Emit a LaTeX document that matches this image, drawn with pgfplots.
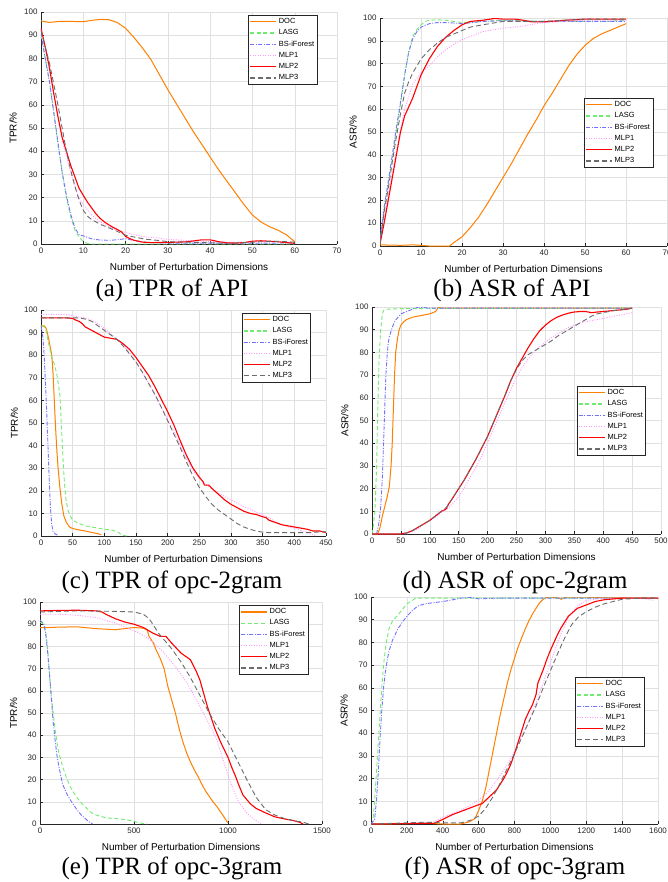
\documentclass[border=0pt]{standalone}
\usepackage{fontspec}
\setmainfont{Liberation Sans}
\newfontfamily\timesfont{Liberation Serif}
\usepackage{pgfplots}
\pgfplotsset{compat=1.18}

\definecolor{cDOC}{rgb}{1,0.5,0}
\definecolor{cLASG}{rgb}{0.45,0.92,0.45}
\definecolor{cBS}{rgb}{0.45,0.45,1}
\definecolor{cMLP1}{rgb}{1,0.6,1}
\definecolor{cMLP2}{rgb}{1,0,0}
\definecolor{cMLP3}{rgb}{0.42,0.42,0.42}
\definecolor{axgray}{rgb}{0.15,0.15,0.15}

\pgfplotsset{
  panel/.style={
    scale only axis,
    axis x line*=bottom, axis y line*=left,
    axis line style={axgray, line width=0.5bp, -},
    every tick/.style={axgray, line width=0.5bp},
    tick align=inside, major tick length=3bp,
    grid=major, grid style={black!12, line width=0.4bp},
    ymin=0, ymax=100, ytick={0,10,...,100},
    tick label style={font=\fontsize{8}{9}\selectfont, text=axgray},
    /pgf/number format/assume math mode=true,
    /pgf/number format/1000 sep={},
    label style={font=\fontsize{9.5}{11}\selectfont, text=axgray},
    every axis x label/.style={at={(axis description cs:0.5,0)}, yshift=-23bp, anchor=center},
    every axis y label/.style={at={(axis description cs:-0.094,0.5)}, rotate=90, anchor=center},
    xlabel={Number of Perturbation Dimensions},
    legend cell align=left,
    legend style={font=\fontsize{7.5}{9}\selectfont, draw=axgray, fill=white,
      line width=0.9bp, inner sep=1bp, row sep=0.5bp, anchor=north west},
    legend image code/.code={\draw[##1, line width=1.2bp] (0bp,0bp) -- (26bp,0bp);},
  },
  sDOC/.style={draw=cDOC, line width=1bp},
  sLASG/.style={draw=cLASG, line width=0.9bp, dash pattern=on 4bp off 2.5bp},
  sBS/.style={draw=cBS, line width=0.9bp, dash pattern=on 4bp off 1.5bp on 1bp off 1.5bp},
  sMLP1/.style={draw=cMLP1, line width=0.9bp, dash pattern=on 1bp off 1.5bp},
  sMLP2/.style={draw=cMLP2, line width=1.1bp},
  sMLP3/.style={draw=cMLP3, line width=0.9bp, dash pattern=on 5bp off 3bp},
}

\begin{document}
\begin{tikzpicture}
\useasboundingbox (0,0) rectangle (668bp,-882bp);

% (a) TPR of API
\begin{axis}[panel, at={(41bp,-12bp)}, anchor=north west, width=296bp, height=232bp,
  xmin=0, xmax=70, xtick={0,10,...,70}, ylabel={TPR/\%},
  legend style={at={(0.70,0.987)}}]
\addplot[sDOC] coordinates {(0,96.2)(1,95.8)(2,95.5)(4,95.9)(6,96.0)(8,95.9)(10,95.8)(12,96.4)(14,96.8)(16,96.7)(18,95.5)(20,93)(22,89)(24,84.5)(26,79.5)(28,73)(30,66.5)(32,60.5)(34,54.5)(36,48.5)(38,43)(40,37.5)(42,32)(44,27)(46,22)(48,17)(50,12.5)(52,9.5)(54,7.5)(56,6)(58,4)(60,1)};
\addplot[sLASG] coordinates {(0,90)(1,80)(2,70)(3,57)(4,43)(5,31)(6,20)(7,12)(8,6)(9,3)(10,1)(11,0.2)(12,0)(60,0)};
\addplot[sBS] coordinates {(0,91)(1,80)(2,70)(3,57)(4,44)(5,31)(6,21)(7,13)(8,7)(9,4)(10,3.5)(12,2.2)(14,1.7)(16,1.6)(18,1.8)(20,2.3)(22,1.5)(25,0.7)(30,0.4)(40,0.4)(50,0.3)(60,0.5)};
\addplot[sMLP1] coordinates {(0,92)(2,75)(4,55)(5,45)(6,38)(7,31)(8,25)(9,20)(10,17)(12,12.5)(14,9.5)(16,7.5)(18,6)(20,5)(22,4)(25,3)(28,2.5)(30,2)(35,1.5)(40,1)(45,0.8)(50,0.8)(55,1)(60,0.6)};
\addplot[sMLP2] coordinates {(0,93)(1,85)(2,76)(3,65)(4,55)(5,46)(6,40)(7,34)(8,29)(9,24)(10,21)(11,18)(12,15.5)(13,13)(14,11)(15,9.5)(16,8.3)(17,7.2)(18,6.3)(19,5.3)(20,3.3)(21,2.3)(22,1.6)(24,0.8)(26,0.6)(30,0.7)(34,0.9)(36,1.3)(38,1.8)(40,1.8)(42,1)(44,0.5)(46,0.4)(48,0.6)(50,1.2)(52,1.4)(54,1.2)(56,1)(58,0.6)(60,0.3)};
\addplot[sMLP3] coordinates {(0,92)(1,85)(2,78)(3,69)(4,60)(5,50)(6,40)(7,32)(8,25)(9,19)(10,14.5)(11,12)(12,10.5)(14,8.5)(16,7)(18,5.5)(20,3.8)(22,3)(25,2)(28,1.5)(30,1)(35,0.8)(40,0.5)(45,0.3)(50,0.8)(55,1.2)(58,1)(60,0.8)};
\legend{DOC,LASG,BS-iForest,MLP1,MLP2,MLP3}
\end{axis}

% (b) ASR of API
\begin{axis}[panel, at={(380bp,-18bp)}, anchor=north west, width=287bp, height=228bp,
  xmin=0, xmax=70, xtick={0,10,...,70}, ylabel={ASR/\%},
  legend style={at={(0.711,0.649)}}]
\addplot[sDOC] coordinates {(0,0.5)(5,0.3)(8,0.5)(10,0.3)(12,0)(17,0)(18,1.5)(20,4)(22,8)(24,12.5)(26,18)(28,24)(30,30)(32,36)(34,42.5)(36,49)(38,55)(40,61.5)(42,67)(44,73)(46,79)(48,84)(50,88)(52,91)(54,93)(56,94.5)(58,96)(60,97.5)};
\addplot[sLASG] coordinates {(0,2)(1,15)(2,27)(3,38)(4,50)(5,62)(6,75)(7,85)(8,92)(9,95)(10,97)(11,98.5)(12,99)(14,99.2)(16,99)(20,98)(25,98.5)(30,99)(40,98.5)(50,98.5)(55,98.5)(60,99)};
\addplot[sBS] coordinates {(0,3)(1,17)(2,28)(3,40)(4,52)(5,63)(6,75)(7,85)(8,91)(9,94)(10,96)(12,97.5)(14,98)(16,98)(18,97.8)(20,97.5)(25,98.5)(30,98.8)(40,98.5)(50,98.5)(60,98.5)};
\addplot[sMLP1] coordinates {(0,1)(2,22)(4,42)(6,60)(8,71)(10,76)(12,79)(14,83)(16,86)(18,88.5)(20,90.5)(25,94)(30,95.5)(35,96.5)(38,97.5)(40,98)(45,98.5)(50,99)(55,99)(60,99)};
\addplot[sMLP2] coordinates {(0,1)(1,10)(2,20)(3,30)(4,40)(5,50)(6,57)(7,61)(8,65)(9,70)(10,75)(12,82)(14,87.5)(16,91.5)(18,94.5)(20,97)(22,98.5)(25,99)(28,99.8)(30,99.5)(33,99.5)(35,99)(37,98.3)(40,98.3)(45,99)(50,99.5)(55,99.5)(60,99.5)};
\addplot[sMLP3] coordinates {(0,1)(1,15)(2,25)(3,37)(4,48)(5,58)(6,67)(7,72)(8,76)(10,82)(12,86)(14,89)(16,91.5)(18,93)(20,94.5)(22,96)(25,97)(30,98.5)(35,98.5)(40,98.5)(45,99)(50,99.5)(60,99.5)};
\legend{DOC,LASG,BS-iForest,MLP1,MLP2,MLP3}
\end{axis}

% (c) TPR of opc-2gram
\begin{axis}[panel, at={(41bp,-310bp)}, anchor=north west, width=285bp, height=226bp,
  xmin=0, xmax=450, xtick={0,50,...,450}, ylabel={TPR/\%},
  legend style={at={(0.705,0.987)}}]
\addplot[sDOC] coordinates {(0,93)(5,93)(8,92)(10,90)(13,86)(17,80)(19,72)(21,60)(23,48)(25,38)(27,30)(30,21)(33,14)(36,9)(40,6)(45,4)(50,3.3)(60,2.7)(70,2.2)(80,1.6)(90,1)(95,0.6)};
\addplot[sLASG] coordinates {(0,93)(5,92.5)(8,91)(10,88)(13,84)(16,80)(20,77)(23,74)(26,70)(28,66)(30,62)(32,50)(34,38)(36,28)(38,20)(40,15)(43,11)(46,9)(50,7)(60,5.5)(70,4.5)(80,4)(90,3.5)(100,3)(110,2.7)(120,2)(125,1)(130,0.3)(135,0)};
\addplot[sBS] coordinates {(0,93)(3,88)(5,80)(7,68)(9,55)(11,40)(13,25)(15,12)(17,5)(19,2)(22,1)(27,0.3)};
\addplot[sMLP1] coordinates {(0,98)(20,98)(40,98)(50,97.5)(60,97)(70,96.5)(80,95.5)(90,94)(100,92)(110,89.5)(120,87)(130,84)(140,81)(150,77)(160,72.5)(170,67.5)(180,62.5)(190,57)(200,51.5)(210,46)(220,40)(230,34)(240,29)(250,25.5)(260,23)(270,21)(280,19)(290,17.5)(300,16)(310,14.5)(320,13)(330,12)(340,10.5)(350,9.5)(360,8)(370,6.5)(380,5)(390,4)(400,3.5)(410,2.5)(420,1.5)(430,0.5)(435,0)};
\addplot[sMLP2] coordinates {(0,96.5)(20,96.5)(40,96.5)(50,96.3)(55,95.5)(60,95)(65,94)(70,92.5)(80,91)(90,89.5)(100,88)(110,87.5)(120,87)(130,85)(140,82.5)(150,79)(160,75)(170,71)(180,66)(190,60.5)(200,55)(210,49)(220,42)(230,35.5)(240,30)(250,26)(256,24)(258,22.5)(265,22.5)(270,21)(280,18.5)(290,16)(300,14)(310,12.5)(320,11)(330,10)(340,9.5)(350,8.5)(355,8.2)(360,7)(370,6)(380,5)(390,4.5)(400,4)(410,3.5)(420,3)(430,2.2)(440,2.2)(450,1.5)};
\addplot[sMLP3] coordinates {(0,96.5)(40,96.5)(60,96.5)(70,96)(80,95)(90,93)(100,91)(110,89)(120,87)(130,84)(140,80.5)(150,77)(160,72.5)(170,67.5)(180,62.5)(190,57)(200,51)(210,45)(220,39)(230,32.5)(240,26.5)(250,21.5)(260,17.5)(270,14)(280,11.5)(290,9.5)(300,7.5)(310,5.5)(320,4)(330,3)(340,2.2)(350,1.7)(360,1.5)(380,1.5)(400,1.5)(420,1.5)(440,1.8)(450,1.8)};
\legend{DOC,LASG,BS-iForest,MLP1,MLP2,MLP3}
\end{axis}

% (d) ASR of opc-2gram
\begin{axis}[panel, at={(372bp,-307bp)}, anchor=north west, width=289bp, height=227bp,
  xmin=0, xmax=500, xtick={0,50,...,500}, ylabel={ASR/\%},
  legend style={at={(0.709,0.652)}}]
\addplot[sDOC] coordinates {(0,0)(10,0)(14,3)(18,8)(22,12)(26,16)(30,21)(33,30)(35,40)(37,55)(39,70)(41,80)(44,86)(47,90)(50,92)(55,93.5)(60,94.5)(70,95.5)(80,96)(90,96.5)(100,97)(110,98)(115,100)(120,99.5)(130,99.5)(200,99.5)(450,99.5)};
\addplot[sLASG] coordinates {(0,0)(2,3)(5,10)(8,30)(10,55)(12,75)(15,90)(18,97)(20,98.5)(25,99)(50,99.3)(450,99.5)};
\addplot[sBS] coordinates {(8,0)(12,5)(15,12)(18,25)(20,40)(22,55)(24,70)(26,78)(28,84)(30,87)(35,91)(40,94)(50,97)(60,98)(70,99)(80,100)(100,99.5)(450,99.5)};
\addplot[sMLP1] coordinates {(0,0)(60,0)(70,1)(80,2.5)(90,4.5)(100,6)(110,7.5)(120,9.5)(130,11)(140,13.5)(150,16.5)(160,20.5)(170,25)(180,29.5)(190,34.5)(200,40)(210,46)(220,52)(230,58)(240,63.5)(250,69)(260,73.5)(270,77)(280,80)(290,82.5)(300,84.5)(310,86.5)(320,88)(330,89.5)(340,91)(350,92)(360,93)(370,93.5)(380,94)(390,94.5)(400,95)(410,95.5)(420,96)(430,96.5)(440,97)(450,97.5)};
\addplot[sMLP2] coordinates {(0,0)(50,0)(60,0.5)(70,1.5)(80,3)(90,4.5)(100,6)(110,8)(120,10)(128,11)(132,13)(140,16)(150,20)(160,24)(170,28.5)(180,33)(190,38)(200,43)(210,49)(220,55)(230,61)(240,67.5)(250,73)(260,77.5)(270,82)(280,86)(290,89.5)(300,92)(310,94)(320,95.5)(330,96.5)(340,97.3)(350,97.8)(360,98)(370,98)(380,97.5)(390,97.8)(400,98)(420,98.5)(440,99)(450,99.5)};
\addplot[sMLP3] coordinates {(0,0)(50,0)(60,0.5)(70,1.5)(80,3)(90,4.5)(100,6)(110,8)(120,10)(130,12)(140,16)(150,20)(160,24)(170,28.5)(180,33)(190,38)(200,43)(210,49)(220,55)(230,61)(240,67.5)(250,72.5)(260,76.5)(270,79)(280,80.5)(290,82)(300,83.5)(310,85)(320,87)(330,88.5)(340,90)(350,91.5)(360,93)(370,94.5)(380,96)(390,97)(400,97.5)(420,98.5)(440,99)(450,99.5)};
\legend{DOC,LASG,BS-iForest,MLP1,MLP2,MLP3}
\end{axis}

% (e) TPR of opc-3gram
\begin{axis}[panel, at={(40bp,-602bp)}, anchor=north west, width=282bp, height=222bp,
  xmin=0, xmax=1500, xtick={0,500,1000,1500}, ylabel={TPR/\%},
  legend style={at={(0.706,0.986)}}]
\addplot[sDOC] coordinates {(0,88.5)(50,88.5)(100,88.7)(200,88.8)(300,88)(400,87.5)(450,88)(500,88.5)(550,88.2)(570,87.5)(580,84.5)(600,82)(620,78)(640,74.5)(660,70)(680,62)(700,56)(720,50)(740,43)(760,37)(780,32)(800,28)(820,24.5)(840,21.5)(860,18)(880,15)(900,12.5)(920,10)(940,8)(960,5.5)(980,3)(1000,0.5)};
\addplot[sLASG] coordinates {(0,91)(20,90)(30,87)(40,80)(50,68)(60,58)(70,50)(80,43)(90,37)(100,32)(120,26)(140,21)(160,17)(180,14)(200,11.5)(225,9)(250,7)(275,5)(300,4)(350,2.8)(400,2.5)(450,2)(500,1.3)(520,0.7)(550,0.2)(570,0)};
\addplot[sBS] coordinates {(0,92)(20,90)(30,86)(40,78)(50,68)(60,57)(70,46)(80,38)(90,31)(100,26)(120,18)(140,14)(160,11)(180,8.5)(200,6)(220,4)(240,2.5)(260,1)(280,0)};
\addplot[sMLP1] coordinates {(0,94.5)(100,94.5)(200,94)(300,93)(400,90.5)(500,87)(550,85)(600,82)(650,78)(700,73)(750,67.5)(800,61)(850,53)(900,45)(940,38)(970,30)(1000,22)(1030,15)(1060,9.5)(1100,5)(1140,2)(1180,0)};
\addplot[sMLP2] coordinates {(0,96)(100,96.2)(200,96.3)(300,96)(330,95.5)(350,94.5)(400,92.5)(450,91)(500,90)(550,88.5)(580,87)(600,86)(640,84.5)(670,84.5)(700,81.5)(750,77)(800,74)(830,69)(850,65)(870,59)(890,53)(910,48)(930,43)(950,39)(960,37)(980,33.5)(1000,30)(1020,25.5)(1040,21.5)(1060,17)(1080,13)(1100,11)(1120,9)(1150,7)(1200,5)(1250,3.2)(1300,2.3)(1350,1.5)(1380,0.8)(1400,0)};
\addplot[sMLP3] coordinates {(0,95.5)(200,96)(400,95.8)(500,95.5)(550,94.5)(580,92.5)(600,90)(630,86)(660,83)(700,79)(750,73)(800,66)(850,58)(900,50)(950,43)(1000,37)(1050,28.5)(1100,20)(1150,12)(1200,6.5)(1250,4)(1300,2.5)(1350,1.5)(1400,0.8)(1430,0)};
\legend{DOC,LASG,BS-iForest,MLP1,MLP2,MLP3}
\end{axis}

% (f) ASR of opc-3gram
\begin{axis}[panel, at={(371bp,-597bp)}, anchor=north west, width=287bp, height=227bp,
  xmin=0, xmax=1600, xtick={0,200,...,1600}, ylabel={ASR/\%},
  legend style={at={(0.711,0.648)}}]
\addplot[sDOC] coordinates {(0,0)(200,0.2)(300,0.4)(400,0)(500,0)(550,1)(580,2.5)(600,6)(620,10)(640,16)(660,24)(680,32)(700,40)(720,48)(740,55)(760,62)(780,68)(800,73)(820,78)(840,82)(860,86)(880,89.5)(900,92.5)(920,95)(940,97.5)(960,99)(980,99.8)(1000,100)(1050,99.5)(1060,99)(1080,99.8)(1100,100)(1600,99.5)};
\addplot[sLASG] coordinates {(0,0)(10,1)(20,10)(30,22)(40,35)(50,48)(60,60)(70,70)(80,77)(90,82)(100,86)(120,89.5)(150,92)(180,95)(200,97)(250,99.5)(300,99.5)(1600,99.5)};
\addplot[sBS] coordinates {(0,0)(20,2)(30,10)(40,22)(50,37)(60,50)(70,60)(80,67)(90,72)(100,76)(120,81)(150,86)(180,89.5)(200,91.5)(230,94)(260,96)(300,97)(350,97.5)(400,98)(450,98.7)(500,99.5)(550,99.8)(600,99.2)(700,99.5)(1600,99.5)};
\addplot[sMLP1] coordinates {(0,0)(200,0.3)(300,0.5)(350,1)(400,3)(450,4.5)(500,6)(550,8)(600,10.5)(650,14)(700,19)(750,25)(800,32)(850,40)(900,49)(950,60)(1000,71)(1050,82)(1100,91)(1150,96)(1200,98.5)(1300,99.5)(1500,99.5)(1580,98.5)};
\addplot[sMLP2] coordinates {(0,0)(350,0.3)(400,2)(450,4)(500,5.5)(550,7)(600,8.5)(620,9)(640,10.5)(660,12)(680,13.5)(700,15)(720,17.5)(740,20)(760,23)(780,26.5)(800,31)(820,36)(840,41)(860,46)(880,49.5)(900,52.5)(920,57)(930,62)(940,64)(960,68)(980,72.5)(1000,76.5)(1020,80)(1040,83.5)(1060,86.5)(1080,89)(1100,91.5)(1150,95)(1200,96.5)(1250,98)(1300,98.8)(1400,99.5)(1600,99.5)};
\addplot[sMLP3] coordinates {(0,0)(200,0.5)(300,0.8)(400,0.5)(500,0.5)(550,1.5)(600,3.5)(640,7)(680,12)(720,18)(760,24.5)(800,31)(840,38)(880,45)(920,52)(960,60)(1000,67.5)(1040,75)(1080,82)(1120,88)(1160,91.5)(1200,93.5)(1250,95.5)(1300,97)(1350,98)(1400,99)(1500,99.5)(1600,99.5)};
\legend{DOC,LASG,BS-iForest,MLP1,MLP2,MLP3}
\end{axis}

\node[font=\timesfont\fontsize{25}{28}\selectfont, anchor=base] at (172bp,-296bp) {(a) TPR of API};
\node[font=\timesfont\fontsize{25}{28}\selectfont, anchor=base] at (512bp,-296bp) {(b) ASR of API};
\node[font=\timesfont\fontsize{25}{28}\selectfont, anchor=base] at (172bp,-588bp) {(c) TPR of opc-2gram};
\node[font=\timesfont\fontsize{25}{28}\selectfont, anchor=base] at (515bp,-588bp) {(d) ASR of opc-2gram};
\node[font=\timesfont\fontsize{25}{28}\selectfont, anchor=base] at (172bp,-874bp) {(e) TPR of opc-3gram};
\node[font=\timesfont\fontsize{25}{28}\selectfont, anchor=base] at (515bp,-874bp) {(f) ASR of opc-3gram};
\end{tikzpicture}
\end{document}
